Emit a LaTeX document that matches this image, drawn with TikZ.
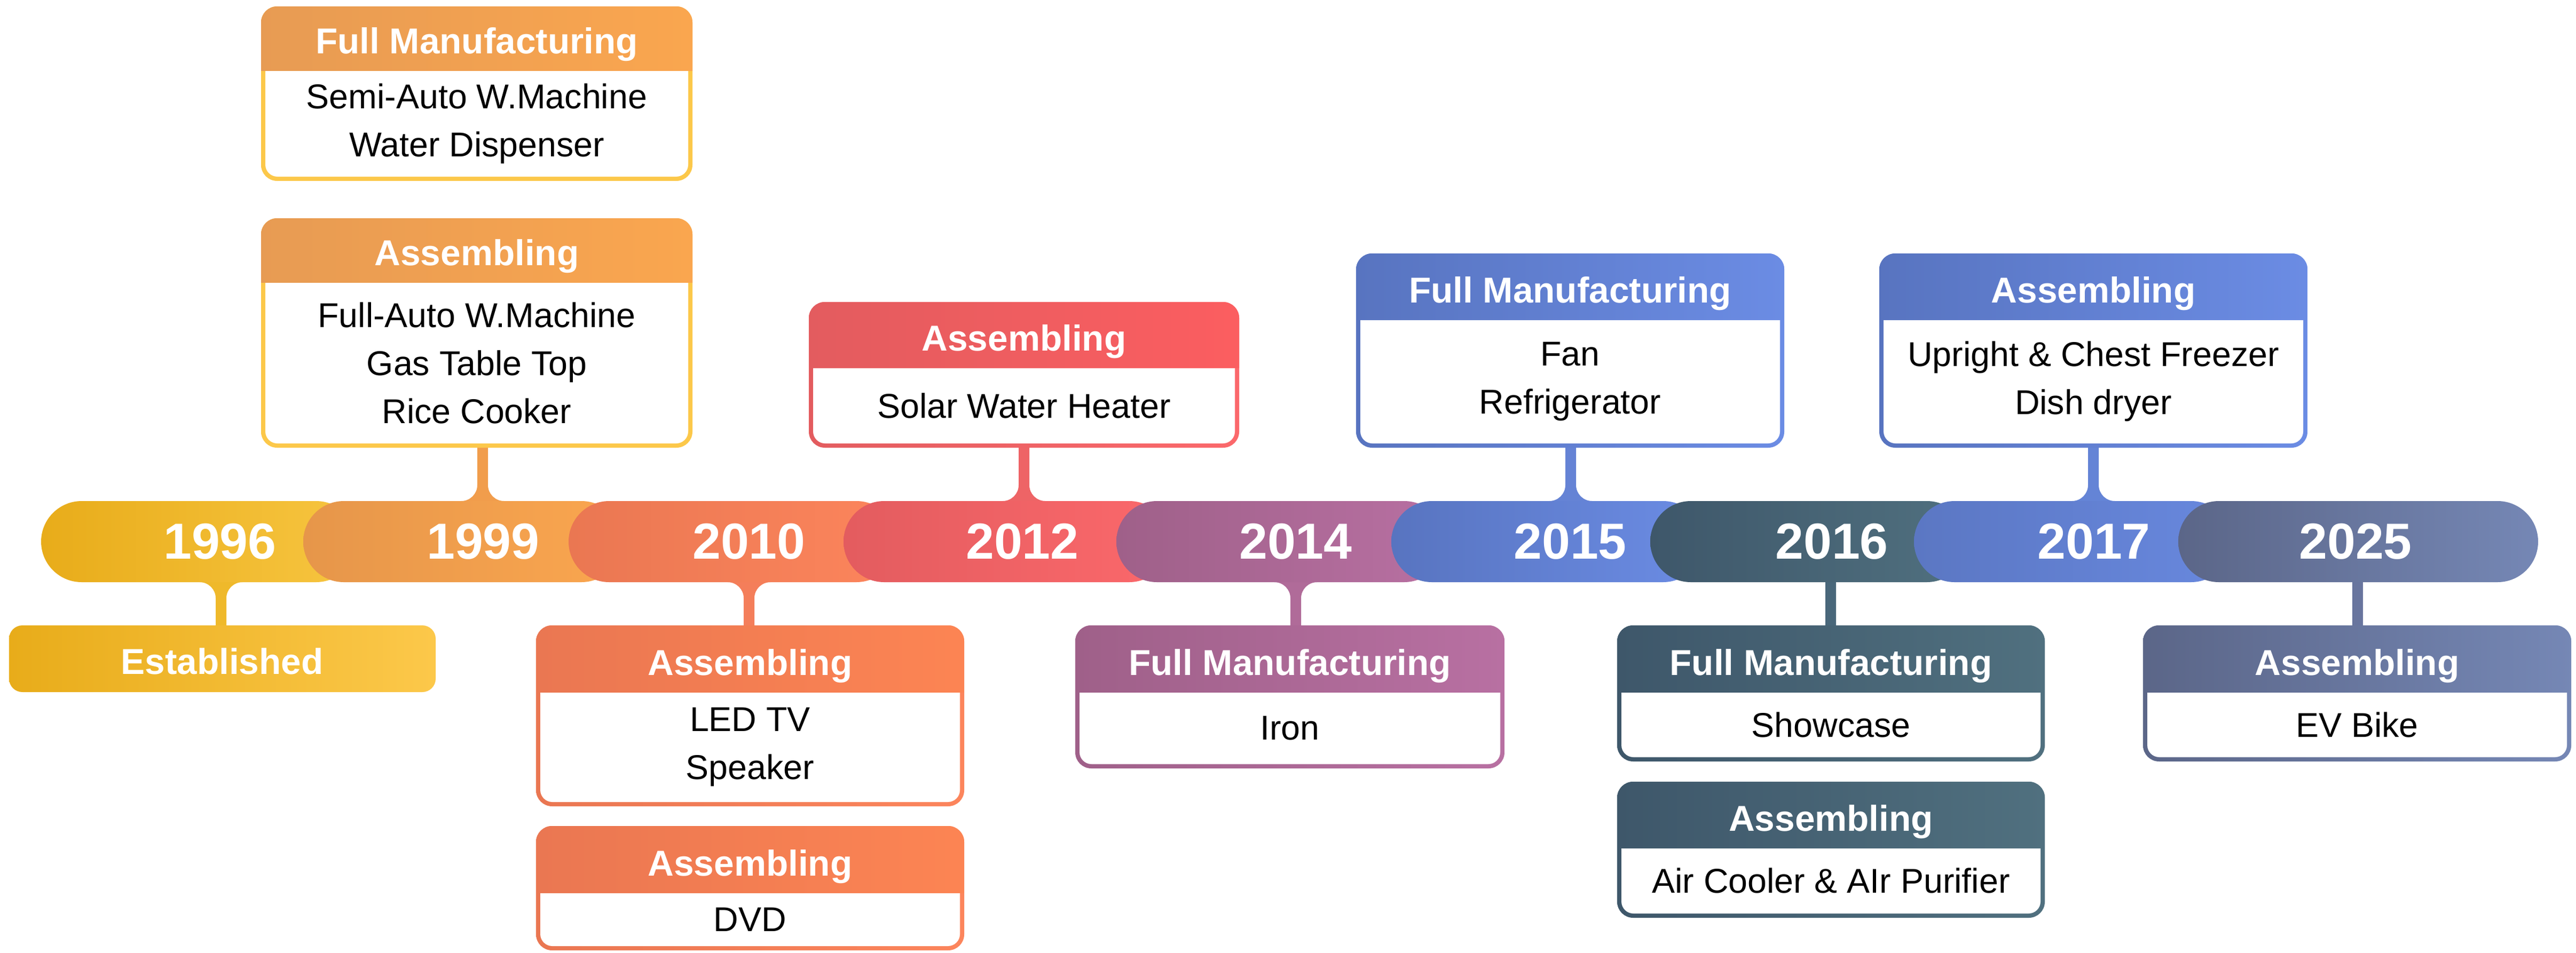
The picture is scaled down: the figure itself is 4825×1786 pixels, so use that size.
\documentclass[tikz,border=0pt]{standalone}
\usepackage{fontspec}
\setmainfont{Liberation Sans}
\definecolor{sAl}{HTML}{E8AC1A}\definecolor{sAr}{HTML}{F7C540}
\definecolor{sBl}{HTML}{E6964A}\definecolor{sBr}{HTML}{FAA64F}
\definecolor{sCl}{HTML}{EA7752}\definecolor{sCr}{HTML}{FC855C}
\definecolor{sDl}{HTML}{E35C5F}\definecolor{sDr}{HTML}{FB686B}
\definecolor{sEl}{HTML}{9F6089}\definecolor{sEr}{HTML}{B870A2}
\definecolor{sFl}{HTML}{5874C0}\definecolor{sFr}{HTML}{6B8CE4}
\definecolor{sGl}{HTML}{3E576A}\definecolor{sGr}{HTML}{50707F}
\definecolor{sHl}{HTML}{5B77C3}\definecolor{sHr}{HTML}{6888DE}
\definecolor{sIl}{HTML}{5B6688}\definecolor{sIr}{HTML}{7587B5}
\definecolor{yelB}{HTML}{FCC84A}
\definecolor{cA}{HTML}{EFB92B}\definecolor{cB}{HTML}{F19D4C}
\definecolor{cC}{HTML}{F47E5A}\definecolor{cD}{HTML}{EE6466}
\definecolor{cE}{HTML}{B06B99}\definecolor{cF}{HTML}{6583D5}
\definecolor{cG}{HTML}{49677A}\definecolor{cH}{HTML}{6484D6}
\definecolor{cI}{HTML}{68759E}
\tikzset{
  hdB/.style={left color=sBl!95!white, right color=sBr},
  bdB/.style={left color=yelB, right color=yelB},
  hdC/.style={left color=sCl, right color=sCr!90!orange},
  bdC/.style={left color=sCl, right color=sCr},
  hdD/.style={left color=sDl, right color=sDr!90!red},
  bdD/.style={left color=sDl, right color=sDr},
  hdE/.style={left color=sEl, right color=sEr},
  bdE/.style={left color=sEl, right color=sEr},
  hdF/.style={left color=sFl, right color=sFr},
  bdF/.style={left color=sFl, right color=sFr},
  hdG/.style={left color=sGl, right color=sGr},
  bdG/.style={left color=sGl, right color=sGr},
  hdI/.style={left color=sIl, right color=sIr},
  bdI/.style={left color=sIl, right color=sIr},
  hdtext/.style={text=white, font=\fontsize{13.5}{16}\selectfont\bfseries, inner sep=0pt, anchor=base},
  bodytext/.style={text=black, align=center, font=\fontsize{12.9}{18}\selectfont, inner sep=0pt},
  yeartext/.style={text=white, font=\fontsize{19}{22}\selectfont\bfseries, inner sep=0pt},
}
% box: name, x1, y1, x2, header bottom, y2, style key, header, body
\newcommand\tlbox[9]{%
  \shade[bd#7, rounded corners=6pt] (#2,#3) rectangle (#4,#6);
  \fill[white, rounded corners=4.5pt] (#2+8,#5-30) rectangle (#4-8,#6-8);
  \begin{scope}
    \clip[rounded corners=6pt] (#2,#3) rectangle (#4,#6);
    \shade[hd#7] (#2,#3-2) rectangle (#4,#5);
  \end{scope}
  \node[hdtext] (#1h) at ({(#2+#4)/2},{#5-32}) {#8};
  \node[bodytext] (#1b) at ({(#2+#4)/2},{(#5+#6-8)/2}) {#9};
}
% timeline segment: x1, x2, left colour, right colour
\newcommand\tlseg[4]{%
  \shade[left color=#3, right color=#4, rounded corners=15.2pt] (#1,939) rectangle (#2,1091);
}
% connector above the bar: x, box bottom, colour
\newcommand\conup[3]{%
  \fill[#3] (#1-10,#2-5) -- (#1-10,909) .. controls (#1-10,925.4) and (#1-23.4,939) .. (#1-40,939)
    -- (#1-40,950) -- (#1+40,950) -- (#1+40,939) .. controls (#1+23.4,939) and (#1+10,925.4) .. (#1+10,909)
    -- (#1+10,#2-5) -- cycle;
}
% connector below the bar with fillets: x, box top, colour
\newcommand\condown[3]{%
  \fill[#3] (#1-40,1080) -- (#1-40,1091) .. controls (#1-23.4,1091) and (#1-10,1104.6) .. (#1-10,1121)
    -- (#1-10,#2+5) -- (#1+10,#2+5) -- (#1+10,1121) .. controls (#1+10,1104.6) and (#1+23.4,1091) .. (#1+40,1091)
    -- (#1+40,1080) -- cycle;
}
% straight connector below the bar: x, box top, colour
\newcommand\constraight[3]{%
  \fill[#3] (#1-10,1080) rectangle (#1+10,#2+5);
}
\begin{document}
\begin{tikzpicture}[x=0.2pt,y=-0.2pt]
\useasboundingbox (0,0) rectangle (4825,1786);
\fill[white] (0,0) rectangle (4825,1786);
% connectors
\condown{414}{1172}{cA}
\conup{904}{839}{cB}
\condown{1403}{1172}{cC}
\conup{1918}{839}{cD}
\condown{2427}{1172}{cE}
\conup{2942}{839}{cF}
\constraight{3429}{1172}{cG}
\conup{3921}{839}{cH}
\constraight{4416}{1172}{cI}
% timeline bar
\tlseg{77}{668}{sAl}{sAr}
\tlseg{568}{1165}{sBl}{sBr}
\tlseg{1065}{1680}{sCl}{sCr}
\tlseg{1580}{2191}{sDl}{sDr}
\tlseg{2091}{2706}{sEl}{sEr}
\tlseg{2606}{3191}{sFl}{sFr}
\tlseg{3091}{3685}{sGl}{sGr}
\tlseg{3585}{4180}{sHl}{sHr}
\tlseg{4080}{4754}{sIl}{sIr}
\node[yeartext] (y1996) at (412,1015) {1996};
\node[yeartext] (y1999) at (905,1015) {1999};
\node[yeartext] (y2010) at (1403,1015) {2010};
\node[yeartext] (y2012) at (1915,1015) {2012};
\node[yeartext] (y2014) at (2427,1015) {2014};
\node[yeartext] (y2015) at (2941,1015) {2015};
\node[yeartext] (y2016) at (3431,1015) {2016};
\node[yeartext] (y2017) at (3922,1015) {2017};
\node[yeartext] (y2025) at (4412,1015) {2025};
% established
\shade[left color=sAl, right color=yelB, rounded corners=5pt] (17,1172) rectangle (816,1297);
\node[hdtext] (est) at (416,1263) {Established};
% boxes
\tlbox{b99f}{489}{12}{1297}{132}{339}{B}{Full Manufacturing}{Semi-Auto W.Machine\\Water Dispenser}
\tlbox{b99a}{489}{409}{1297}{529}{839}{B}{Assembling}{Full-Auto W.Machine\\Gas Table Top\\Rice Cooker}
\tlbox{b10a}{1004}{1172}{1806}{1297}{1511}{C}{Assembling}{LED TV\\Speaker}
\tlbox{b10b}{1004}{1548}{1806}{1673}{1781}{C}{Assembling}{DVD}
\tlbox{b12}{1515}{566}{2321}{689}{839}{D}{Assembling}{Solar Water Heater}
\tlbox{b14}{2014}{1172}{2818}{1297}{1440}{E}{Full Manufacturing}{Iron}
\tlbox{b15}{2540}{475}{3342}{599}{839}{F}{Full Manufacturing}{Fan\\Refrigerator}
\tlbox{b17}{3520}{475}{4322}{599}{839}{F}{Assembling}{Upright \& Chest Freezer\\Dish dryer}
\tlbox{b16f}{3029}{1172}{3830}{1297}{1427}{G}{Full Manufacturing}{Showcase}
\tlbox{b16a}{3029}{1465}{3830}{1589}{1720}{G}{Assembling}{Air Cooler \& AIr Purifier}
\tlbox{b25}{4014}{1172}{4816}{1297}{1427}{I}{Assembling}{EV Bike}
\end{tikzpicture}
\end{document}
